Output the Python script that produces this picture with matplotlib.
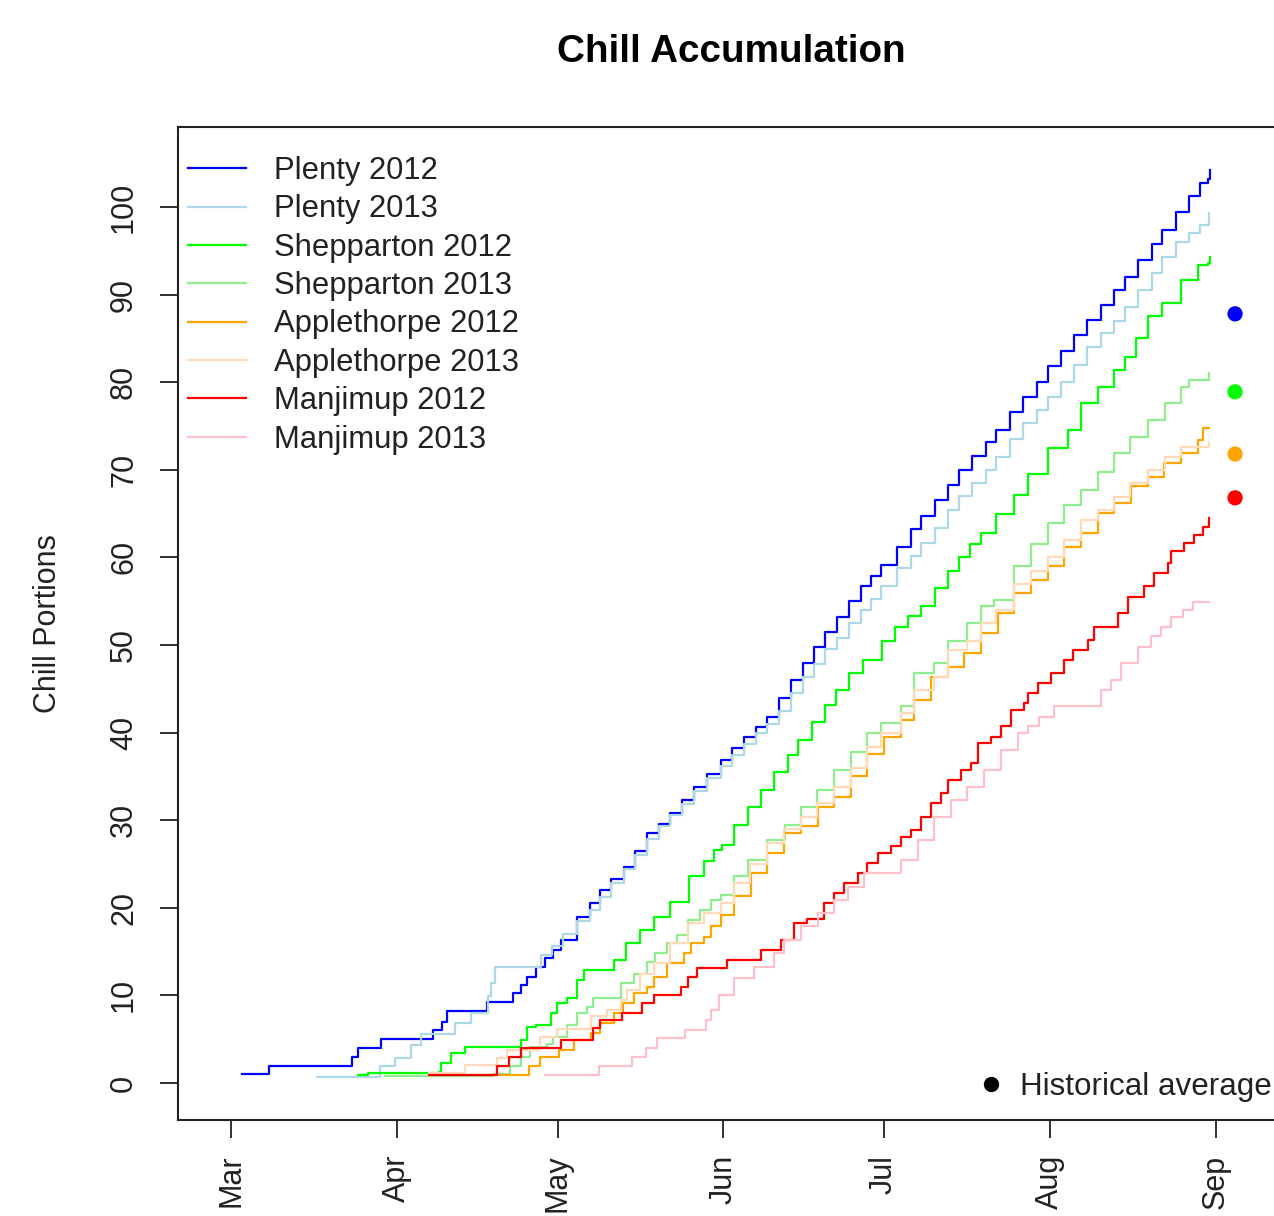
import matplotlib
matplotlib.use("Agg")
import matplotlib.pyplot as plt
from matplotlib.lines import Line2D

plt.rcParams['font.family'] = ['Liberation Sans', 'DejaVu Sans']

# Days counted from 1 March; values in chill portions
month_labels = ["Mar", "Apr", "May", "Jun", "Jul", "Aug", "Sep"]
month_days = [0, 31, 61, 92, 122, 153, 184]
y_ticks = [0, 10, 20, 30, 40, 50, 60, 70, 80, 90, 100]

series_names = ["Plenty 2012", "Plenty 2013", "Shepparton 2012", "Shepparton 2013",
                "Applethorpe 2012", "Applethorpe 2013", "Manjimup 2012", "Manjimup 2013"]
series_colors = ["#0000FF", "#ADD8E6", "#00FF00", "#90EE90",
                 "#FFA500", "#FFDAB9", "#FF0000", "#FFC0CB"]

plenty12_day = [2, 7, 22.6, 23.8, 28, 37.8, 39.5, 40.4, 47.8, 52.7, 54.1, 55.3, 56.9, 58.7, 60.2,
                61.6, 64.7, 67, 69, 71, 73.4, 75.5, 77.8, 80, 82.1, 84.3, 86.5, 89, 91.5, 93.6,
                95.8, 98, 100.2, 102.4, 104.6, 106.8, 108.9, 111, 113.3, 115.5, 117.7, 119.6,
                121.4, 124.5, 127, 129, 131.5, 134, 136, 138.5, 141, 143, 145.5, 148, 150.5,
                152.7, 155, 157.5, 160, 162.5, 165, 167, 169.5, 172, 174, 176.5, 179, 181,
                182.6, 183]
plenty12_val = [1.0, 2.0, 3.0, 4.0, 5.0, 6.0, 7.0, 8.2, 9.3, 10.3, 11.2, 12.1, 13.3, 14.3, 15.2,
                16.3, 19.0, 20.5, 22.0, 23.3, 24.7, 26.5, 28.5, 29.6, 30.8, 32.3, 33.8, 35.3,
                36.9, 38.3, 39.5, 40.6, 41.8, 44.0, 46.0, 48.0, 49.8, 51.5, 53.2, 55.0, 56.7,
                57.9, 59.1, 61.2, 63.2, 64.7, 66.5, 68.3, 70.0, 71.6, 73.2, 74.5, 76.6, 78.3,
                80.0, 81.8, 83.6, 85.4, 87.1, 88.8, 90.5, 92.0, 94.0, 95.8, 97.4, 99.4, 101.2,
                102.7, 103.2, 104.2]

plenty13_day = [16, 27.9, 30.6, 33.7, 35.5, 41.8, 44.9, 48, 48.6, 49.3, 58, 60, 62, 64.7, 67, 69,
                71, 73.4, 75.5, 77.8, 80, 82.1, 84.3, 86.5, 89, 91.5, 93.6, 95.8, 98, 100.2,
                102.4, 104.6, 106.8, 108.9, 111, 113.3, 115.5, 117.7, 119.6, 121.4, 124.5, 127,
                129, 131.5, 134, 136, 138.5, 141, 143, 145.5, 148, 150.5, 152.7, 155, 157.5, 160,
                162.5, 165, 167, 169.5, 172, 174, 176.5, 179, 181, 182.8]
plenty13_val = [0.7, 1.9, 2.9, 4.3, 5.6, 6.8, 8.0, 9.9, 11.4, 13.3, 14.6, 15.6, 17.0, 18.5, 19.8,
                21.2, 22.8, 24.4, 26.0, 27.8, 29.3, 30.6, 31.8, 33.3, 34.8, 36.2, 37.5, 38.7,
                40.0, 41.0, 42.5, 44.5, 46.3, 47.8, 49.5, 50.8, 52.5, 54.0, 55.3, 56.7, 58.8,
                60.2, 61.6, 63.3, 65.4, 67.0, 68.5, 70.0, 71.5, 73.5, 75.3, 76.8, 78.3, 80.0,
                82.0, 84.0, 85.6, 87.0, 88.6, 90.5, 92.5, 94.3, 96.0, 97.0, 98.0, 99.3]

shepp12_day = [23.8, 25.6, 38.8, 39.3, 41, 43.8, 54.1, 55.3, 56.9, 59.7, 60.9, 62.8, 64.7, 65.9,
               71.5, 73.7, 76.5, 79, 82.1, 85.5, 88.3, 90.2, 91.7, 94, 96.5, 99, 101.5, 104, 106,
               108.5, 111, 113, 115.5, 118, 121.6, 124, 126.5, 129, 131.5, 134, 136, 138, 140.1,
               143, 146.3, 149, 152.7, 156.4, 158.8, 162, 165, 167, 169, 171.3, 174, 177.5,
               180.7, 182.6, 183]
shepp12_val = [0.9, 1.1, 1.3, 2.3, 3.4, 4.1, 4.9, 6.4, 6.6, 8.0, 9.1, 9.7, 11.8, 12.9, 14.0, 16.0,
               17.5, 19.0, 20.7, 23.6, 25.3, 26.6, 27.2, 29.5, 31.5, 33.4, 35.5, 37.5, 39.2,
               41.2, 43.2, 44.9, 46.8, 48.3, 50.5, 52.0, 53.3, 54.5, 56.5, 58.5, 60.0, 61.5,
               62.8, 65.0, 67.1, 69.5, 72.5, 74.5, 77.6, 79.5, 81.4, 82.9, 85.0, 87.5, 89.0,
               91.7, 93.4, 93.6, 94.3]

shepp13_day = [28.8, 49, 52.2, 54.1, 55.9, 59.1, 60.2, 62.8, 64.7, 66.5, 67.7, 72.8, 75.2, 77.8,
               79.3, 81.5, 83.4, 85.3, 87.7, 89.6, 91.5, 93.9, 96.5, 100.2, 103.5, 106.4, 109.5,
               112.6, 115.8, 118.9, 121.4, 125.2, 127.6, 131.3, 133.9, 137.6, 140.1, 142.6,
               146.3, 149.5, 152.6, 155.7, 158.8, 162, 165, 168, 171.3, 174.5, 177.5, 178.9,
               182.8]
shepp13_val = [0.75, 1.0, 1.9, 3.0, 4.15, 4.5, 5.3, 6.6, 8.0, 8.7, 9.7, 11.4, 12.5, 13.8, 14.8,
               16.0, 16.9, 18.6, 19.7, 20.9, 21.5, 23.6, 25.5, 27.7, 29.5, 31.5, 33.5, 35.7,
               37.8, 39.9, 41.1, 43.0, 46.8, 47.9, 50.5, 52.5, 54.4, 55.1, 59.0, 61.5, 63.9,
               66.0, 67.7, 69.8, 71.9, 73.8, 75.7, 77.6, 79.5, 80.3, 81.0]

apple12_day = [36.9, 55.6, 57.8, 61.2, 64, 67.2, 69, 71.5, 73.3, 75.2, 77.8, 79, 81.5, 84.6, 85.9,
               88.3, 89.6, 91.5, 93.9, 97.1, 100.2, 103.3, 106.4, 109.6, 112.6, 115.8, 118.9,
               122, 125.2, 127.6, 130.8, 133.9, 137, 140.1, 143.3, 146.3, 149.5, 152.6, 155.7,
               158.8, 162, 165, 168.2, 171.3, 174.4, 177.5, 180.7, 181.7, 182.8]
apple12_val = [0.9, 2.0, 3.0, 3.8, 4.9, 5.7, 6.8, 8.0, 9.1, 10.3, 11.0, 12.1, 13.7, 14.8, 16.0,
               16.7, 17.9, 19.2, 21.3, 24.0, 26.3, 28.5, 29.3, 31.5, 32.7, 35.0, 37.6, 39.5,
               41.4, 43.7, 46.4, 47.5, 49.1, 51.4, 53.6, 55.9, 57.4, 59.0, 61.2, 62.8, 65.1,
               66.2, 68.1, 69.2, 70.8, 71.9, 73.4, 74.8, 74.8]

apple13_day = [36.9, 43.8, 49.7, 51.6, 57.8, 60.9, 67.2, 70.3, 72.8, 74, 76.5, 79, 82.1, 85.3,
               88.3, 91.5, 93.9, 97, 100.2, 103.3, 106.4, 109.5, 112.6, 115.8, 118.9, 121.4,
               125.2, 127.6, 131.3, 133.9, 137.6, 140.1, 143, 146.3, 149.5, 152.6, 155.7, 158.8,
               162, 165, 168, 171.3, 174.5, 177.5, 182.8]
apple13_val = [1.1, 2.05, 2.85, 3.8, 5.3, 6.2, 7.6, 8.3, 9.5, 10.6, 12.5, 13.7, 16.0, 18.3, 19.4,
               20.5, 22.8, 25.0, 27.4, 29.0, 30.4, 32.0, 33.8, 36.0, 38.4, 40.0, 42.2, 44.9,
               46.4, 49.4, 50.5, 52.5, 54.0, 57.0, 58.5, 60.1, 62.0, 64.3, 65.4, 66.9, 68.5,
               70.0, 71.5, 72.6, 73.2]

manji12_day = [36.9, 49.7, 51.9, 54.1, 61.6, 67.7, 69, 73.1, 76.8, 79, 84, 85.3, 87.1, 92.7, 99,
               102.7, 105.1, 107.7, 110.8, 112.6, 114.5, 117.1, 118.9, 120.8, 123.3, 125.2, 127,
               128.9, 130.8, 132.6, 133.9, 136.4, 138.3, 139.5, 142, 143.9, 145.7, 148.2, 148.9,
               150.7, 153.2, 155.7, 157.3, 160.1, 161.3, 165.7, 167.6, 170.6, 172.5, 175.1,
               175.7, 178.1, 180, 181.6, 182.8]
manji12_val = [0.9, 2.0, 3.0, 4.0, 4.9, 6.3, 7.2, 8.0, 9.1, 10.0, 11.0, 12.1, 13.1, 14.0, 15.2,
               16.3, 18.3, 18.7, 20.5, 21.7, 22.8, 24.0, 25.1, 26.3, 27.0, 28.1, 28.9, 30.4,
               32.0, 33.1, 34.6, 35.7, 36.5, 38.8, 39.5, 40.7, 42.6, 43.4, 44.5, 45.7, 46.8,
               48.3, 49.4, 50.6, 52.1, 53.6, 55.5, 56.7, 58.2, 59.4, 60.7, 61.6, 62.6, 63.5,
               64.5]

manji13_day = [58.7, 68.7, 75, 77.5, 79.6, 84.9, 88.7, 89.6, 91.1, 93.9, 97.7, 101.4, 103.3,
               106.4, 109.6, 112.6, 115.2, 118.2, 125.2, 128.3, 131.3, 134.5, 137.6, 140.7,
               143.9, 147, 148.9, 151, 153.8, 162.6, 164.5, 166.3, 169.4, 171.9, 173.8, 175.7,
               177.9, 179.7, 182.8]
manji13_val = [0.9, 2.0, 3.0, 4.0, 5.1, 6.0, 7.2, 8.3, 10.0, 12.0, 13.3, 14.8, 16.3, 17.9, 19.4,
               20.9, 22.4, 24.0, 25.5, 27.7, 30.4, 32.3, 33.8, 35.7, 38.0, 40.0, 40.7, 41.8,
               43.0, 44.9, 46.0, 47.9, 49.8, 51.0, 52.1, 53.2, 54.0, 54.9, 54.9]

hist_day = [187.6, 187.6, 187.6, 187.6]
hist_val = [87.8, 78.9, 71.8, 66.8]
hist_colors = ["#0000FF", "#00FF00", "#FFA500", "#FF0000"]

all_days = [plenty12_day, plenty13_day, shepp12_day, shepp13_day,
            apple12_day, apple13_day, manji12_day, manji13_day]
all_vals = [plenty12_val, plenty13_val, shepp12_val, shepp13_val,
            apple12_val, apple13_val, manji12_val, manji13_val]

W, H = 1274, 1216
fig = plt.figure(figsize=(W / 100, H / 100), dpi=100)
ax_left, ax_right, ax_top, ax_bottom = 178, 1295, 127, 1120
ax = fig.add_axes([ax_left / W, 1 - ax_bottom / H, (ax_right - ax_left) / W, (ax_bottom - ax_top) / H])

for d, v, c, n in zip(all_days, all_vals, series_colors, series_names):
    ax.plot(d, v, drawstyle="steps-post", color=c, lw=1.6, label=n)

ax.scatter(hist_day, hist_val, color=hist_colors, s=100, zorder=5, clip_on=False)

ax.set_xlim(-9.92, 198.8)
ax.set_ylim(-4.22, 109.13)
ax.set_xticks(month_days)
ax.set_xticklabels(month_labels, rotation=90)
ax.set_yticks(y_ticks)
ax.set_yticklabels([str(t) for t in y_ticks], rotation=90, va="center")
ax.tick_params(axis="both", labelsize=22, length=13, width=1.3, color="#222222",
               labelcolor="#222222")
ax.tick_params(axis="x", pad=12)
ax.tick_params(axis="y", pad=15)
for s in ax.spines.values():
    s.set_linewidth(1.5)
    s.set_color("#222222")

ax.set_ylabel("Chill Portions", fontsize=22, color="#222222")
ax.yaxis.set_label_coords(-0.103, 0.5)

fig.text(731 / W, 1 - 52 / H, "Chill Accumulation", ha="center", va="center",
         fontsize=27.8, fontweight="bold")

leg1 = ax.legend(loc="upper left", bbox_to_anchor=(188 / W, 1 - 156 / H),
                 bbox_transform=fig.transFigure, frameon=False, fontsize=22.3,
                 handlelength=1.86, handletextpad=0.93, labelspacing=0.27,
                 borderpad=0, borderaxespad=0)
for t in leg1.get_texts():
    t.set_color("#222222")
ax.add_artist(leg1)

hist_handle = Line2D([], [], color="black", marker="o", linestyle="none", markersize=10)
leg2 = ax.legend([hist_handle], ["Historical average"], loc="center left",
                 bbox_to_anchor=(975.7 / W, 1 - 1087 / H), bbox_transform=fig.transFigure,
                 frameon=False, fontsize=22.6, handlelength=1.0, handletextpad=0.41,
                 borderpad=0, borderaxespad=0)
for t in leg2.get_texts():
    t.set_color("#222222")

fig.savefig("out.png", dpi=100, facecolor="white")
